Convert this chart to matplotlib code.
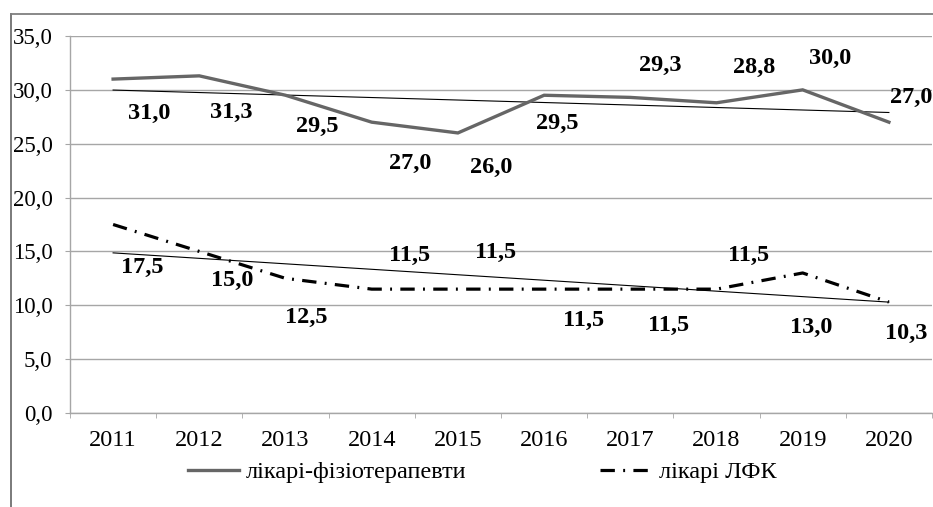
import matplotlib
matplotlib.use("Agg")
import matplotlib.pyplot as plt
import numpy as np
from matplotlib.lines import Line2D

years = ["2011", "2012", "2013", "2014", "2015", "2016", "2017", "2018", "2019", "2020"]
physio = [31.0, 31.3, 29.5, 27.0, 26.0, 29.5, 29.3, 28.8, 30.0, 27.0]
lfk = [17.5, 15.0, 12.5, 11.5, 11.5, 11.5, 11.5, 11.5, 13.0, 10.3]
physio_name = "лікарі-фізіотерапевти"
lfk_name = "лікарі ЛФК"
yticks = [0, 5, 10, 15, 20, 25, 30, 35]

# label offsets in pixels (dx, dy) relative to each point
physio_offsets = [(36, -34), (32, -37), (32, -31), (38, -41), (33, -35),
                  (13, -28), (30, 32), (38, 35), (27, 31), (22, 25)]
lfk_offsets = [(29, -43), (33, -29), (21, -39), (38, 34), (38, 37),
               (39, -31), (38, -36), (32, 34), (8, -54), (17, -31)]

FONT = "Liberation Serif"
plt.rcParams['font.family'] = [FONT]

W, H = 933, 507
fig = plt.figure(figsize=(W / 100, H / 100), dpi=100)
ax = fig.add_axes([70 / W, 1 - 413 / H, 862 / W, 377 / H])

x = np.arange(len(years))
grid_c = "#a6a6a6"

ax.plot(x, physio, color="#666666", lw=2.4, solid_joinstyle="miter", zorder=3)
ax.plot(x, lfk, color="black", lw=2.3, dashes=(4.5, 2.6, 0.6, 2.6), zorder=3)

for series in (physio, lfk):
    k, b = np.polyfit(x, series, 1)
    ax.plot(x, k * x + b, color="black", lw=0.8, zorder=2)

for series, offs in ((physio, physio_offsets), (lfk, lfk_offsets)):
    for xi, v, (dx, dy) in zip(x, series, offs):
        ax.annotate(f"{v:.1f}".replace(".", ","), (xi, v), xytext=(dx, dy),
                    textcoords="offset pixels", ha="center", va="center",
                    fontsize=17.5, fontweight="bold", family=FONT,
                    annotation_clip=False, clip_on=False, zorder=4)

ax.set_xlim(-0.5, len(years) - 0.5)
ax.set_ylim(0, 35)
ax.set_yticks(yticks)
ax.set_yticklabels([f"{t:.1f}".replace(".", ",") for t in yticks], family=FONT)
ax.set_xticks(x)
ax.set_xticklabels(years, family=FONT)
ax.set_xticks(np.arange(-0.5, len(years), 1), minor=True)
ax.tick_params(axis="x", which="major", length=0, pad=12, labelsize=17.5)
ax.tick_params(axis="x", which="minor", length=3.6, color=grid_c, direction="out")
ax.tick_params(axis="y", length=3.6, color=grid_c, pad=9, labelsize=16.5)

ax.grid(axis="y", color=grid_c, lw=1)
ax.set_axisbelow(True)
for s in ("top", "right"):
    ax.spines[s].set_visible(False)
for s in ("left", "bottom"):
    ax.spines[s].set_color(grid_c)
    ax.spines[s].set_linewidth(1)

handles = [Line2D([], [], color="#666666", lw=2.4),
           Line2D([], [], color="black", lw=2.3, dashes=(4.5, 2.6, 0.6, 2.6))]
fig.legend(handles, [physio_name, lfk_name], loc="center",
           bbox_to_anchor=(482 / W, 1 - 472 / H), ncol=2, frameon=False,
           prop={"family": FONT, "size": 17.5}, handlelength=2.1,
           handletextpad=0.3, columnspacing=5.5)

# outer chart border (cropped at right and bottom)
fig.add_artist(Line2D([11 / W, 11 / W], [0, 1 - 14 / H], transform=fig.transFigure,
                      color="#6f6f6f", lw=1.3))
fig.add_artist(Line2D([11 / W, 1], [1 - 14 / H, 1 - 14 / H], transform=fig.transFigure,
                      color="#7f7f7f", lw=1.3))

fig.savefig("out.png", dpi=100)
